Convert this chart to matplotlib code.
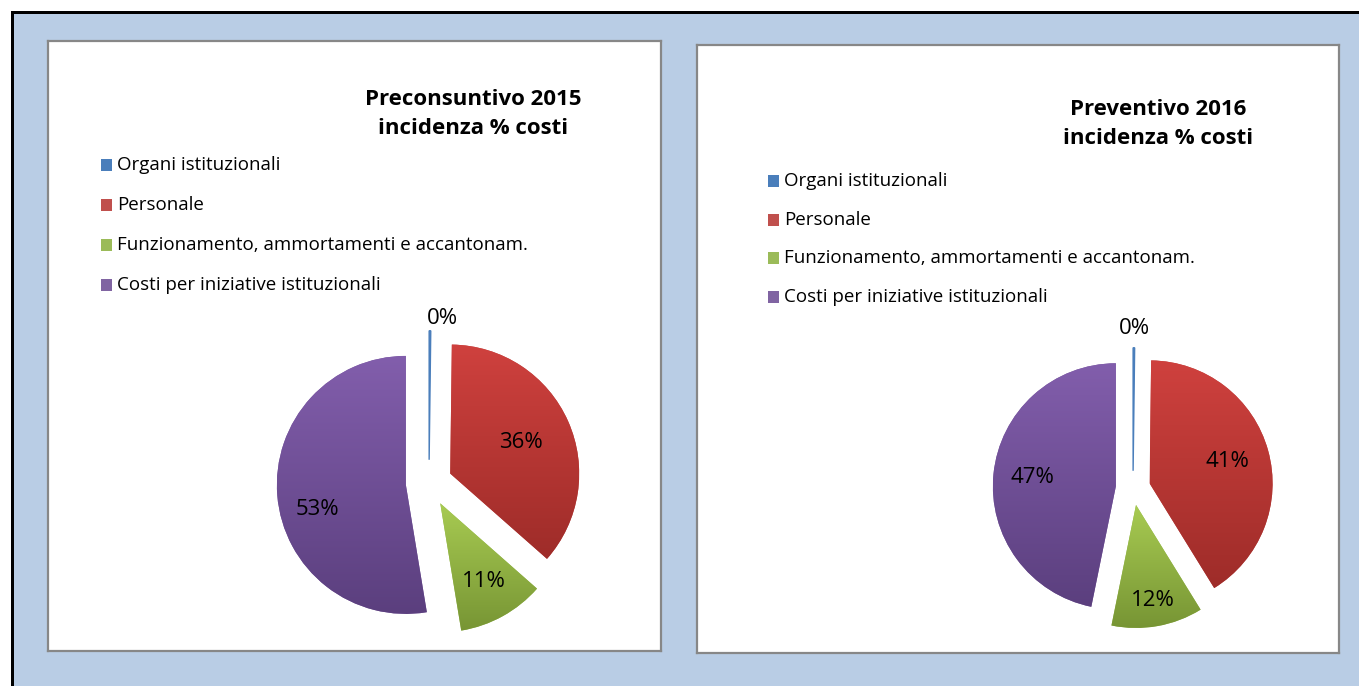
import numpy as np
import matplotlib
matplotlib.use("Agg")
import matplotlib.pyplot as plt
from matplotlib.patches import Rectangle
from matplotlib.colors import LinearSegmentedColormap

W, H = 1359, 686

categories = ["Organi istituzionali", "Personale",
              "Funzionamento, ammortamenti e accantonam.",
              "Costi per iniziative istituzionali"]
values_2015 = [0.2, 36.3, 10.9, 52.6]
values_2016 = [0.2, 41.0, 12.0, 46.8]
title_2015 = "Preconsuntivo 2015\nincidenza % costi"
title_2016 = "Preventivo 2016\nincidenza % costi"

# colori (chiaro in alto, scuro in basso)
legend_colors = ["#4A7EBB", "#C0504D", "#9BBB59", "#8064A2"]
grad_colors = [("#5A8ED0", "#3D6FA8"), ("#CF413E", "#9E2C29"),
               ("#A8CB52", "#779534"), ("#825EAC", "#5B3F7E")]

plt.rcParams['font.family'] = ['Open Sans', 'DejaVu Sans']


def fx(x):
    return x / W


def fy(y):
    return 1 - y / H


def fig_rect(fig, x0, y0, x1, y1, color, z):
    # rettangolo in pixel (origine in alto a sinistra)
    fig.patches.append(Rectangle((fx(x0), fy(y1)), (x1 - x0) / W, (y1 - y0) / H,
                                 transform=fig.transFigure, facecolor=color,
                                 edgecolor="none", zorder=z))


def add_panel(fig, x0, y0, x1, y1):
    ax = fig.add_axes([fx(x0), fy(y1), (x1 - x0) / W, (y1 - y0) / H])
    ax.set_facecolor("white")
    ax.set_xticks([])
    ax.set_yticks([])
    for s in ax.spines.values():
        s.set_color("#878787")
        s.set_linewidth(1.6)
    return ax


def draw_pie(fig, values, cx, cy, r, explode, label_dist, label_rot):
    lim = 1.4
    size = 2 * lim * r
    ax = fig.add_axes([fx(cx - size / 2), fy(cy + size / 2), size / W, size / H])
    ax.set_axis_off()
    wedges, texts, autotexts = ax.pie(
        values, colors=legend_colors, startangle=90, counterclock=False,
        explode=[explode] * len(values), radius=1,
        autopct=lambda p: f"{p:.0f}%", pctdistance=0.68,
        textprops=dict(fontsize=16, color="black"))
    for i, w in enumerate(wedges):
        # etichetta: centro dello spicchio esploso + distanza lungo la bisettrice
        mid = np.deg2rad((w.theta1 + w.theta2) / 2)
        ang = mid + np.deg2rad(label_rot[i])
        vx, vy = explode * np.cos(mid), explode * np.sin(mid)
        d = label_dist[i]
        autotexts[i].set_position((vx + d * np.cos(ang), vy + d * np.sin(ang)))
        autotexts[i].set_zorder(5)
        if i == 0:
            w.set_edgecolor(legend_colors[0])
            w.set_linewidth(1.0)
            continue
        w.set_linewidth(0)
        x0, y0, x1, y1 = w.get_path().get_extents().extents
        cmap = LinearSegmentedColormap.from_list("g", [grad_colors[i][1], grad_colors[i][0]])
        grad = np.linspace(0, 1, 256).reshape(-1, 1)
        im = ax.imshow(grad, cmap=cmap, extent=[x0, x1, y0, y1], origin="lower",
                       aspect="auto", zorder=w.get_zorder() + 0.1, interpolation="bilinear")
        im.set_clip_path(w)
    ax.set_xlim(-lim, lim)
    ax.set_ylim(-lim, lim)
    return ax


def draw_legend(fig, x, y0, step):
    for i, (cat, col) in enumerate(zip(categories, legend_colors)):
        y = y0 + i * step
        fig_rect(fig, x, y - 6, x + 11, y + 6, col, 2)
        fig.text(fx(x + 16), fy(y), cat, fontsize=13.5, va="center", ha="left")


fig = plt.figure(figsize=(W / 100, H / 100), dpi=100)
fig.patch.set_facecolor("white")

# sfondo azzurro con bordo nero (solo sinistra e sopra)
fig_rect(fig, 11, 11, W, H, "black", -3)
fig_rect(fig, 14, 14, W, H, "#B9CDE5", -2)

add_panel(fig, 48, 41, 661, 651)
add_panel(fig, 697, 45, 1339, 653)

fig.text(fx(473), fy(114), title_2015, fontsize=16, fontweight="bold",
         ha="center", va="center", multialignment="center", linespacing=1.5)
fig.text(fx(1158), fy(124), title_2016, fontsize=16, fontweight="bold",
         ha="center", va="center", multialignment="center", linespacing=1.5)

draw_legend(fig, 101, 165, 40)
draw_legend(fig, 768, 181, 38.7)

draw_pie(fig, values_2015, 429, 483, 129, 0.18,
         [1.10, 0.60, 0.69, 0.71], [-5, 0, 0, 11])
draw_pie(fig, values_2016, 1133, 488, 123, 0.14,
         [1.16, 0.66, 0.79, 0.68], [0, 0, 0, 0])

fig.savefig("out.png", dpi=100, facecolor=fig.get_facecolor())
